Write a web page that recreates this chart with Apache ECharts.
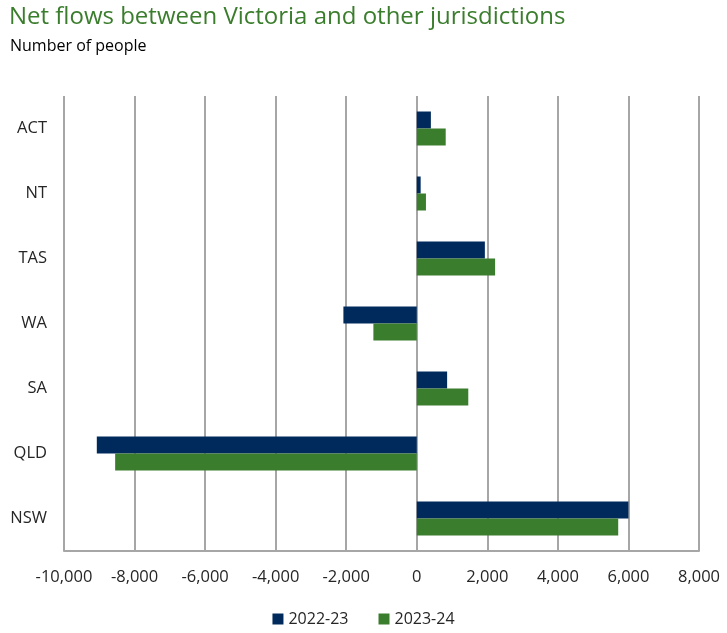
<!DOCTYPE html>
<html>
<head>
<meta charset="utf-8">
<script src="https://cdn.jsdelivr.net/npm/echarts@6/dist/echarts.min.js"></script>
<style>
  html, body { margin: 0; padding: 0; background: #fff; }
  #chart { width: 727px; height: 633px; }
</style>
</head>
<body>
<div id="chart"></div>
<script>
// categories listed bottom to top (category y axis grows upward)
const states = ['NSW', 'QLD', 'SA', 'WA', 'TAS', 'NT', 'ACT'];
const flows2223 = [6000, -9070, 860, -2080, 1930, 110, 400];
const flows2324 = [5710, -8550, 1460, -1230, 2220, 260, 820];
const xTicks = { min: -10000, max: 8000, step: 2000 };

const font = '"Open Sans", "Noto Sans", sans-serif';
const chart = echarts.init(document.getElementById('chart'));

chart.setOption({
  animation: false,
  title: [
    {
      text: 'Net flows between Victoria and other jurisdictions',
      left: 4, top: 0,
      textStyle: { color: '#3a7d2c', fontSize: 24, fontWeight: 'normal', fontFamily: font }
    },
    {
      text: 'Number of people',
      left: 5, top: 33,
      textStyle: { color: '#000', fontSize: 16, fontWeight: 'normal', fontFamily: font }
    }
  ],
  legend: {
    data: ['2022-23', '2023-24'],
    bottom: 1,
    left: 'center',
    itemWidth: 11, itemHeight: 11,
    itemGap: 30,
    icon: 'rect',
    textStyle: { color: '#262626', fontSize: 16, fontFamily: font }
  },
  grid: { left: 64, right: 28, top: 96, bottom: 82, containLabel: false },
  xAxis: {
    type: 'value',
    min: xTicks.min, max: xTicks.max, interval: xTicks.step,
    axisLine: { show: true, lineStyle: { color: '#a6a6a6', width: 2 } },
    axisTick: { show: false },
    axisLabel: {
      color: '#262626', fontSize: 16.5, fontFamily: font, margin: 18,
      formatter: v => v.toLocaleString('en-US')
    },
    splitLine: { show: true, lineStyle: { color: '#a6a6a6', width: 2 } }
  },
  yAxis: {
    type: 'category',
    data: states,
    axisLine: { show: false },
    axisTick: { show: false },
    axisLabel: { color: '#262626', fontSize: 16.5, fontFamily: font, margin: 17 }
  },
  series: [
    {
      name: '2022-23', type: 'bar', data: flows2223,
      barWidth: 17, barGap: '0%',
      itemStyle: { color: '#002a5c' }
    },
    {
      name: '2023-24', type: 'bar', data: flows2324,
      barWidth: 17, barGap: '0%',
      itemStyle: { color: '#3a7d2c' }
    }
  ]
});
</script>
</body>
</html>
